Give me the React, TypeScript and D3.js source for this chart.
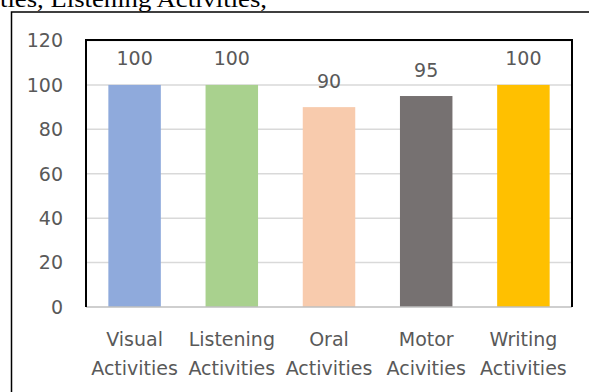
import React from "react";
import * as d3 from "d3";

// Activity categories (two-line axis labels) and their scores
const categoryLines: string[][] = [
  ["Visual", "Activities"],
  ["Listening", "Activities"],
  ["Oral", "Activities"],
  ["Motor", "Acivities"],
  ["Writing", "Activities"],
];
const values: number[] = [100, 100, 90, 95, 100];
const barColors: string[] = ["#8FAADC", "#A9D18E", "#F8CBAD", "#767171", "#FFC000"];
const yTicks: number[] = [0, 20, 40, 60, 80, 100, 120];
const headingText = "ties, Listening Activities,";

const W = 589;
const H = 392;
const plot = { left: 86, right: 572, top: 40.5, bottom: 307 };
const labelFont = "'DejaVu Sans', sans-serif";
const textGray = "#595959";

export default function App() {
  const keys = categoryLines.map((c) => c.join(" "));
  const x = d3
    .scaleBand<string>()
    .domain(keys)
    .range([plot.left, plot.right])
    .paddingInner(0.46)
    .paddingOuter(0.23);
  const y = d3.scaleLinear().domain([0, 120]).range([plot.bottom, plot.top]);

  return (
    <svg
      width={W}
      height={H}
      style={{ position: "absolute", left: 0, top: 0, background: "#fff" }}
    >
      {/* running text of the surrounding document, clipped at the top */}
      <text
        x={0}
        y={6.5}
        fontFamily="'Liberation Serif', 'Times New Roman', serif"
        fontSize={24}
        textLength={267}
        lengthAdjust="spacingAndGlyphs"
        fill="#000"
      >
        {headingText}
      </text>

      {/* outer figure frame */}
      <rect x={11.5} y={12} width={W} height={H} fill="none" stroke="#000" strokeWidth={1.5} />

      {/* horizontal gridlines */}
      {yTicks
        .filter((t) => t > 0)
        .map((t) => (
          <line
            key={`g${t}`}
            x1={plot.left}
            x2={plot.right}
            y1={y(t)}
            y2={y(t)}
            stroke="#D9D9D9"
            strokeWidth={1.5}
          />
        ))}

      {/* y tick labels */}
      {yTicks.map((t) => (
        <text
          key={`t${t}`}
          x={63}
          y={y(t)}
          dy="0.36em"
          textAnchor="end"
          fontFamily={labelFont}
          fontSize={19}
          fill={textGray}
        >
          {t}
        </text>
      ))}

      {/* bars */}
      {keys.map((k, i) => (
        <rect
          key={`b${k}`}
          x={x(k)}
          y={y(values[i])}
          width={x.bandwidth()}
          height={y(0) - y(values[i])}
          fill={barColors[i]}
        />
      ))}

      {/* value labels */}
      {keys.map((k, i) => (
        <text
          key={`v${k}`}
          x={(x(k) ?? 0) + x.bandwidth() / 2}
          y={y(values[i]) - 19.5}
          textAnchor="middle"
          fontFamily={labelFont}
          fontSize={19}
          fill={textGray}
        >
          {values[i]}
        </text>
      ))}

      {/* category axis line */}
      <line
        x1={plot.left}
        x2={plot.right}
        y1={y(0)}
        y2={y(0)}
        stroke="#BFBFBF"
        strokeWidth={1.5}
      />

      {/* plot-area frame (left, top, right) */}
      <path
        d={`M${plot.left},${plot.bottom}V${plot.top - 0.5}H${plot.right}V${plot.bottom}`}
        fill="none"
        stroke="#000"
        strokeWidth={2}
      />

      {/* category labels */}
      {keys.map((k, i) => (
        <text
          key={`c${k}`}
          textAnchor="middle"
          fontFamily={labelFont}
          fontSize={19}
          fill={textGray}
        >
          {categoryLines[i].map((line, j) => (
            <tspan key={j} x={(x(k) ?? 0) + x.bandwidth() / 2} y={346 + j * 29}>
              {line}
            </tspan>
          ))}
        </text>
      ))}
    </svg>
  );
}
